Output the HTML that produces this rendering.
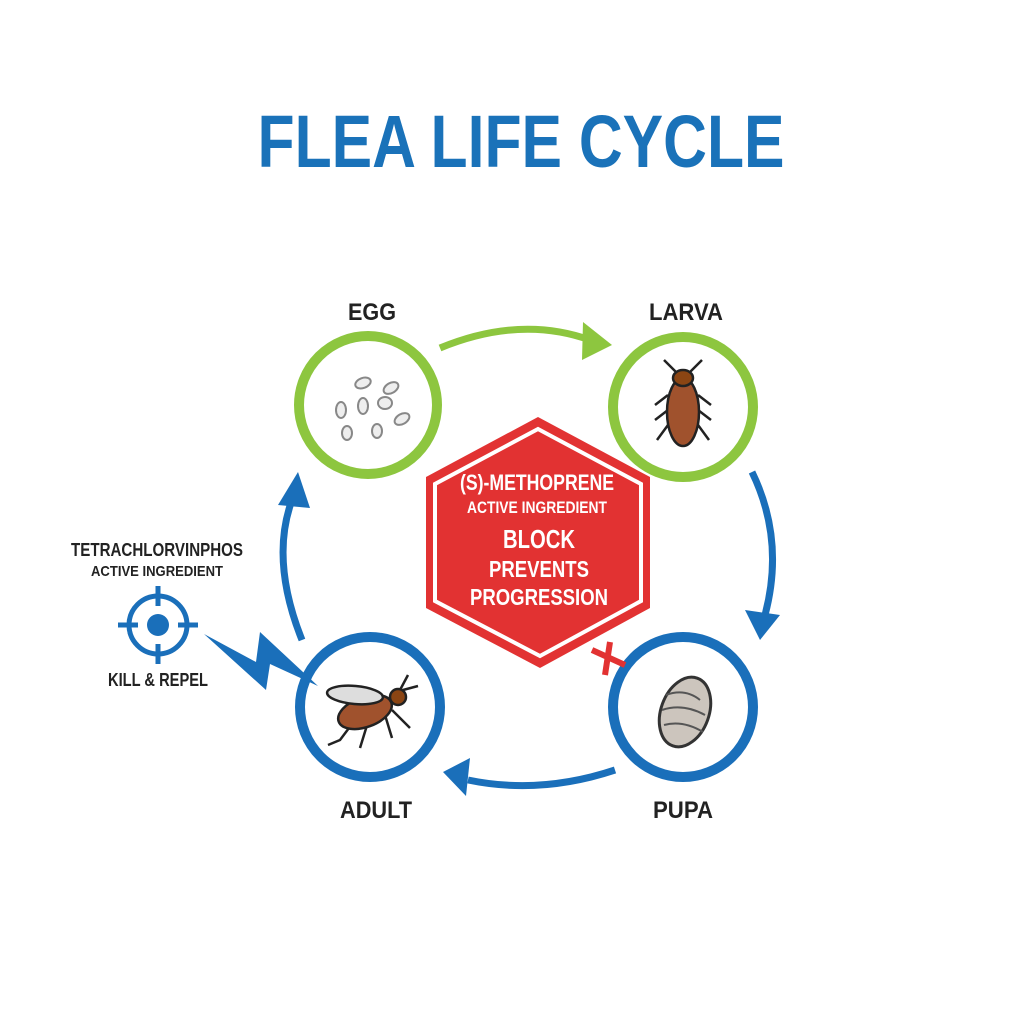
<!DOCTYPE html>
<html><head><style>
html,body{margin:0;padding:0;background:#fff}
svg{display:block}
text{font-family:"Liberation Sans",sans-serif;font-weight:bold}
</style></head><body>
<svg width="1024" height="1024" viewBox="0 0 1024 1024">
<text x="521" y="167" text-anchor="middle" font-size="74" fill="#1a72b9" textLength="527" lengthAdjust="spacingAndGlyphs">FLEA LIFE CYCLE</text>

<!-- arrows -->
<path d="M440,348 Q520,315 590,340" fill="none" stroke="#8dc63f" stroke-width="7"/>
<polygon points="612,345 583,322 582,360" fill="#8dc63f"/>
<path d="M752,472 Q785,540 765,615" fill="none" stroke="#1a6fba" stroke-width="7"/>
<polygon points="760,640 745,610 780,615" fill="#1a6fba"/>
<path d="M615,770 Q540,795 468,780" fill="none" stroke="#1a6fba" stroke-width="7"/>
<polygon points="443,772 470,758 466,796" fill="#1a6fba"/>
<path d="M302,640 Q270,560 292,500" fill="none" stroke="#1a6fba" stroke-width="7"/>
<polygon points="298,472 278,505 310,508" fill="#1a6fba"/>

<!-- circles -->
<circle cx="368" cy="405" r="69" fill="#fff" stroke="#8dc63f" stroke-width="10"/>
<circle cx="683" cy="407" r="70" fill="#fff" stroke="#8dc63f" stroke-width="10"/>
<circle cx="370" cy="707" r="70" fill="#fff" stroke="#1a6fba" stroke-width="10"/>
<circle cx="683" cy="707" r="70" fill="#fff" stroke="#1a6fba" stroke-width="10"/>

<text x="372" y="320" text-anchor="middle" font-size="24" fill="#222" textLength="48" lengthAdjust="spacingAndGlyphs">EGG</text>
<text x="686" y="320" text-anchor="middle" font-size="24" fill="#222" textLength="74" lengthAdjust="spacingAndGlyphs">LARVA</text>
<text x="376" y="818" text-anchor="middle" font-size="24" fill="#222" textLength="72" lengthAdjust="spacingAndGlyphs">ADULT</text>
<text x="683" y="818" text-anchor="middle" font-size="24" fill="#222" textLength="60" lengthAdjust="spacingAndGlyphs">PUPA</text>

<!-- eggs -->
<g fill="#eee" stroke="#888" stroke-width="2">
<ellipse cx="363" cy="383" rx="8" ry="5" transform="rotate(-20 363 383)"/>
<ellipse cx="391" cy="388" rx="8" ry="5" transform="rotate(-30 391 388)"/>
<ellipse cx="341" cy="410" rx="5" ry="8"/>
<ellipse cx="363" cy="406" rx="5" ry="8"/>
<ellipse cx="385" cy="403" rx="7" ry="6"/>
<ellipse cx="402" cy="419" rx="8" ry="5" transform="rotate(-30 402 419)"/>
<ellipse cx="347" cy="433" rx="5" ry="7"/>
<ellipse cx="377" cy="431" rx="5" ry="7"/>
</g>

<!-- larva -->
<g stroke="#222" stroke-width="2.5" fill="none">
<path d="M676,372 L664,360 M690,372 L702,360 M668,395 L655,405 M668,410 L655,420 M668,425 L657,440 M698,395 L711,405 M698,410 L711,420 M698,425 L709,440"/>
</g>
<ellipse cx="683" cy="412" rx="16" ry="34" fill="#a0522d" stroke="#222" stroke-width="2.5"/>
<ellipse cx="683" cy="378" rx="10" ry="8" fill="#8b4513" stroke="#222" stroke-width="2.5"/>

<!-- pupa -->
<ellipse cx="685" cy="712" rx="24" ry="36" transform="rotate(20 685 712)" fill="#ccc5bd" stroke="#333" stroke-width="3"/>
<g stroke="#555" stroke-width="2" fill="none"><path d="M666,695 Q685,688 700,700 M662,710 Q683,703 705,715 M664,725 Q683,720 703,732"/></g>

<!-- adult -->
<g stroke="#222" stroke-width="2.5" fill="none"><path d="M355,720 L340,740 L328,745 M368,722 L360,748 M385,715 L392,738 M392,710 L410,728 M400,690 L408,675 M403,690 L418,686"/></g>
<ellipse cx="365" cy="712" rx="28" ry="15" transform="rotate(-20 365 712)" fill="#a0522d" stroke="#222" stroke-width="2.5"/>
<ellipse cx="355" cy="695" rx="28" ry="9" transform="rotate(5 355 695)" fill="#ddd" stroke="#222" stroke-width="2.5"/>
<circle cx="398" cy="697" r="8" fill="#8b4513" stroke="#222" stroke-width="2.5"/>

<!-- hexagon -->
<polygon points="538,417 650,477 650,608 540,668 426,608 426,477" fill="#e23232"/>
<polygon points="538,429 641,484 641,601 540,656 435,601 435,484" fill="none" stroke="#fff" stroke-width="4"/>
<g fill="#fff" text-anchor="middle">
<text x="537" y="490" font-size="22" textLength="154" lengthAdjust="spacingAndGlyphs">(S)-METHOPRENE</text>
<text x="537" y="513" font-size="17" textLength="140" lengthAdjust="spacingAndGlyphs">ACTIVE INGREDIENT</text>
<text x="539" y="548" font-size="26" textLength="72" lengthAdjust="spacingAndGlyphs">BLOCK</text>
<text x="539" y="577" font-size="23" textLength="100" lengthAdjust="spacingAndGlyphs">PREVENTS</text>
<text x="539" y="605" font-size="23" textLength="138" lengthAdjust="spacingAndGlyphs">PROGRESSION</text>
</g>
<!-- red x -->
<g stroke="#e23232" stroke-width="6"><path d="M592,650 L625,665 M610,642 L605,675"/></g>

<!-- left -->
<text x="157" y="556" text-anchor="middle" font-size="18" fill="#222" textLength="172" lengthAdjust="spacingAndGlyphs">TETRACHLORVINPHOS</text>
<text x="157" y="576" text-anchor="middle" font-size="15" fill="#222" textLength="132" lengthAdjust="spacingAndGlyphs">ACTIVE INGREDIENT</text>
<circle cx="158" cy="625" r="29" fill="none" stroke="#1a6fba" stroke-width="5"/>
<circle cx="158" cy="625" r="11" fill="#1a6fba"/>
<g stroke="#1a6fba" stroke-width="5"><path d="M158,586 L158,606 M158,644 L158,664 M118,625 L138,625 M178,625 L198,625"/></g>
<text x="158" y="686" text-anchor="middle" font-size="18" fill="#222" textLength="100" lengthAdjust="spacingAndGlyphs">KILL &amp; REPEL</text>
<polygon points="204,634 256,662 260,632 318,686 270,664 266,690" fill="#1a6fba"/>
</svg>
</body></html>
